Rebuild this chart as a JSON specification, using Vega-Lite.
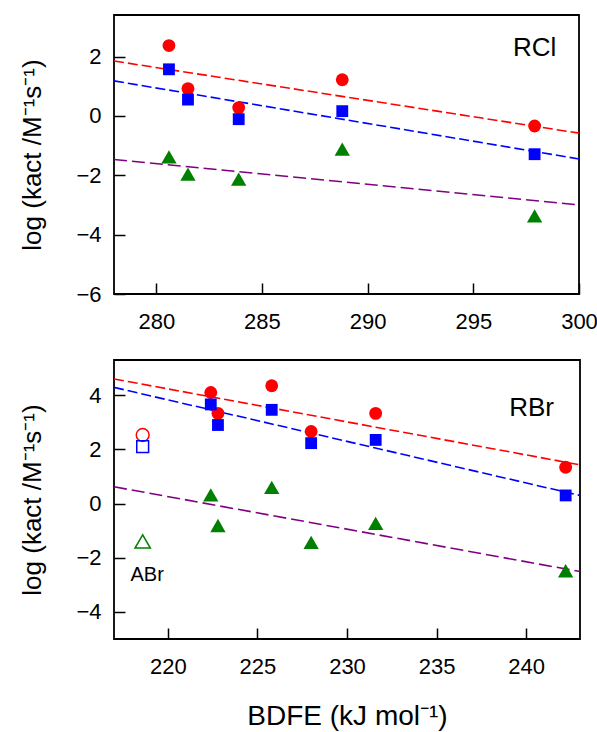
{
  "$schema": "https://vega.github.io/schema/vega-lite/v6.json",
  "background": "white",
  "padding": {"left": 19, "top": 14, "right": 3, "bottom": 5},
  "spacing": 26,
  "config": {
    "font": "Liberation Sans",
    "view": {"stroke": "#000000", "strokeWidth": 1.8},
    "axis": {
      "grid": false, "domain": false,
      "tickColor": "#000000", "tickWidth": 1.5, "tickSize": -11,
      "labelFont": "Liberation Sans", "labelFontSize": 22, "labelColor": "#000000",
      "titleFont": "Liberation Sans", "titleFontWeight": "normal", "titleColor": "#000000",
      "labelFlush": false, "labelOverlap": false, "labelBound": false
    },
    "axisX": {"labelPadding": 28, "titleFontSize": 28, "titlePadding": 25},
    "axisY": {"labelPadding": 24, "titleFontSize": 26, "titlePadding": 30}
  },
  "datasets": {
    "pts": [
      {"panel": "RCl", "series": "S1", "bdfe": 280.6, "logk": 2.37},
      {"panel": "RCl", "series": "S1", "bdfe": 281.5, "logk": 0.92},
      {"panel": "RCl", "series": "S1", "bdfe": 283.9, "logk": 0.28},
      {"panel": "RCl", "series": "S1", "bdfe": 288.8, "logk": 1.22},
      {"panel": "RCl", "series": "S1", "bdfe": 297.9, "logk": -0.34},
      {"panel": "RCl", "series": "S2", "bdfe": 280.6, "logk": 1.57},
      {"panel": "RCl", "series": "S2", "bdfe": 281.5, "logk": 0.55},
      {"panel": "RCl", "series": "S2", "bdfe": 283.9, "logk": -0.11},
      {"panel": "RCl", "series": "S2", "bdfe": 288.8, "logk": 0.16},
      {"panel": "RCl", "series": "S2", "bdfe": 297.9, "logk": -1.29},
      {"panel": "RCl", "series": "S3", "bdfe": 280.6, "logk": -1.38},
      {"panel": "RCl", "series": "S3", "bdfe": 281.5, "logk": -1.96},
      {"panel": "RCl", "series": "S3", "bdfe": 283.9, "logk": -2.13},
      {"panel": "RCl", "series": "S3", "bdfe": 288.8, "logk": -1.12},
      {"panel": "RCl", "series": "S3", "bdfe": 297.9, "logk": -3.37},
      {"panel": "RBr", "series": "S1", "bdfe": 222.4, "logk": 4.10},
      {"panel": "RBr", "series": "S1", "bdfe": 222.8, "logk": 3.33},
      {"panel": "RBr", "series": "S1", "bdfe": 225.8, "logk": 4.35},
      {"panel": "RBr", "series": "S1", "bdfe": 228.0, "logk": 2.66},
      {"panel": "RBr", "series": "S1", "bdfe": 231.6, "logk": 3.33},
      {"panel": "RBr", "series": "S1", "bdfe": 242.2, "logk": 1.34},
      {"panel": "RBr", "series": "S2", "bdfe": 222.4, "logk": 3.66},
      {"panel": "RBr", "series": "S2", "bdfe": 222.8, "logk": 2.90},
      {"panel": "RBr", "series": "S2", "bdfe": 225.8, "logk": 3.46},
      {"panel": "RBr", "series": "S2", "bdfe": 228.0, "logk": 2.23},
      {"panel": "RBr", "series": "S2", "bdfe": 231.6, "logk": 2.35},
      {"panel": "RBr", "series": "S2", "bdfe": 242.2, "logk": 0.30},
      {"panel": "RBr", "series": "S3", "bdfe": 222.4, "logk": 0.32},
      {"panel": "RBr", "series": "S3", "bdfe": 222.8, "logk": -0.81},
      {"panel": "RBr", "series": "S3", "bdfe": 225.8, "logk": 0.60},
      {"panel": "RBr", "series": "S3", "bdfe": 228.0, "logk": -1.43},
      {"panel": "RBr", "series": "S3", "bdfe": 231.6, "logk": -0.73},
      {"panel": "RBr", "series": "S3", "bdfe": 242.2, "logk": -2.48}
    ],
    "open": [
      {"panel": "RBr", "series": "S1", "bdfe": 218.6, "logk": 2.53},
      {"panel": "RBr", "series": "S2", "bdfe": 218.6, "logk": 2.10},
      {"panel": "RBr", "series": "S3", "bdfe": 218.6, "logk": -1.40}
    ],
    "fits": [
      {"panel": "RCl", "series": "S1", "bdfe": 278, "logk": 1.85},
      {"panel": "RCl", "series": "S1", "bdfe": 300, "logk": -0.58},
      {"panel": "RCl", "series": "S2", "bdfe": 278, "logk": 1.18},
      {"panel": "RCl", "series": "S2", "bdfe": 300, "logk": -1.45},
      {"panel": "RCl", "series": "S3", "bdfe": 278, "logk": -1.47},
      {"panel": "RCl", "series": "S3", "bdfe": 300, "logk": -3.0},
      {"panel": "RBr", "series": "S1", "bdfe": 217, "logk": 4.6},
      {"panel": "RBr", "series": "S1", "bdfe": 243, "logk": 1.43},
      {"panel": "RBr", "series": "S2", "bdfe": 217, "logk": 4.29},
      {"panel": "RBr", "series": "S2", "bdfe": 243, "logk": 0.30},
      {"panel": "RBr", "series": "S3", "bdfe": 217, "logk": 0.62},
      {"panel": "RBr", "series": "S3", "bdfe": 243, "logk": -2.51}
    ],
    "labels": [
      {"panel": "RCl", "label": "RCl", "bdfe": 297.9, "logk": 2.28},
      {"panel": "RBr", "label": "RBr", "bdfe": 240.3, "logk": 3.52},
      {"panel": "RBr", "label": "ABr", "bdfe": 218.85, "logk": -2.64}
    ]
  },
  "vconcat": [
    {
      "width": 465, "height": 279,
      "encoding": {
        "x": {"field": "bdfe", "type": "quantitative", "scale": {"domain": [278, 300], "nice": false, "zero": false}, "axis": {"values": [280, 285, 290, 295, 300], "title": null}},
        "y": {"field": "logk", "type": "quantitative", "scale": {"domain": [-6, 3.4], "nice": false, "zero": false}, "axis": {"values": [-6, -4, -2, 0, 2], "title": "log (kact /M⁻¹s⁻¹)"}}
      },
      "layer": [
        {
          "data": {"name": "fits"},
          "transform": [{"filter": "datum.panel === 'RCl'"}],
          "mark": {"type": "line", "strokeWidth": 1.6},
          "encoding": {
            "stroke": {"field": "series", "type": "nominal", "scale": {"domain": ["S1", "S2", "S3"], "range": ["#ff0000", "#0000ff", "#800080"]}, "legend": null},
            "strokeDash": {"field": "series", "type": "nominal", "scale": {"domain": ["S1", "S2", "S3"], "range": [[10, 4], [10, 4], [13, 5]]}, "legend": null}
          }
        },
        {
          "data": {"name": "pts"},
          "transform": [{"filter": "datum.panel === 'RCl'"}],
          "mark": {"type": "point", "filled": true, "opacity": 1},
          "encoding": {
            "color": {"field": "series", "type": "nominal", "scale": {"domain": ["S1", "S2", "S3"], "range": ["#ff0000", "#0000ff", "#008000"]}, "legend": null},
            "shape": {"field": "series", "type": "nominal", "scale": {"domain": ["S1", "S2", "S3"], "range": ["circle", "square", "triangle-up"]}, "legend": null},
            "size": {"field": "series", "type": "nominal", "scale": {"type": "ordinal", "domain": ["S1", "S2", "S3"], "range": [165, 140, 235]}, "legend": null}
          }
        },
        {
          "data": {"name": "labels"},
          "transform": [{"filter": "datum.panel === 'RCl'"}],
          "mark": {"type": "text", "font": "Liberation Sans", "fontSize": 26, "align": "center", "baseline": "middle", "color": "#000000"},
          "encoding": {"text": {"field": "label"}}
        }
      ]
    },
    {
      "width": 466, "height": 279,
      "encoding": {
        "x": {"field": "bdfe", "type": "quantitative", "scale": {"domain": [217, 243], "nice": false, "zero": false}, "axis": {"values": [220, 225, 230, 235, 240], "title": "BDFE (kJ mol⁻¹)"}},
        "y": {"field": "logk", "type": "quantitative", "scale": {"domain": [-5, 5.3], "nice": false, "zero": false}, "axis": {"values": [-4, -2, 0, 2, 4], "title": "log (kact /M⁻¹s⁻¹)"}}
      },
      "layer": [
        {
          "data": {"name": "fits"},
          "transform": [{"filter": "datum.panel === 'RBr'"}],
          "mark": {"type": "line", "strokeWidth": 1.6},
          "encoding": {
            "stroke": {"field": "series", "type": "nominal", "scale": {"domain": ["S1", "S2", "S3"], "range": ["#ff0000", "#0000ff", "#800080"]}, "legend": null},
            "strokeDash": {"field": "series", "type": "nominal", "scale": {"domain": ["S1", "S2", "S3"], "range": [[10, 4], [10, 4], [13, 5]]}, "legend": null}
          }
        },
        {
          "data": {"name": "pts"},
          "transform": [{"filter": "datum.panel === 'RBr'"}],
          "mark": {"type": "point", "filled": true, "opacity": 1},
          "encoding": {
            "color": {"field": "series", "type": "nominal", "scale": {"domain": ["S1", "S2", "S3"], "range": ["#ff0000", "#0000ff", "#008000"]}, "legend": null},
            "shape": {"field": "series", "type": "nominal", "scale": {"domain": ["S1", "S2", "S3"], "range": ["circle", "square", "triangle-up"]}, "legend": null},
            "size": {"field": "series", "type": "nominal", "scale": {"type": "ordinal", "domain": ["S1", "S2", "S3"], "range": [165, 140, 235]}, "legend": null}
          }
        },
        {
          "data": {"name": "open"},
          "mark": {"type": "point", "filled": false, "opacity": 1, "strokeWidth": 1.5},
          "encoding": {
            "color": {"field": "series", "type": "nominal", "scale": {"domain": ["S1", "S2", "S3"], "range": ["#ff0000", "#0000ff", "#008000"]}, "legend": null},
            "shape": {"field": "series", "type": "nominal", "scale": {"domain": ["S1", "S2", "S3"], "range": ["circle", "square", "triangle-up"]}, "legend": null},
            "size": {"field": "series", "type": "nominal", "scale": {"type": "ordinal", "domain": ["S1", "S2", "S3"], "range": [160, 135, 220]}, "legend": null}
          }
        },
        {
          "data": {"name": "labels"},
          "transform": [{"filter": "datum.panel === 'RBr'"}],
          "mark": {"type": "text", "font": "Liberation Sans", "align": "center", "baseline": "middle", "color": "#000000"},
          "encoding": {
            "text": {"field": "label"},
            "size": {"condition": {"test": "datum.label === 'ABr'", "value": 20}, "value": 26}
          }
        }
      ]
    }
  ]
}
